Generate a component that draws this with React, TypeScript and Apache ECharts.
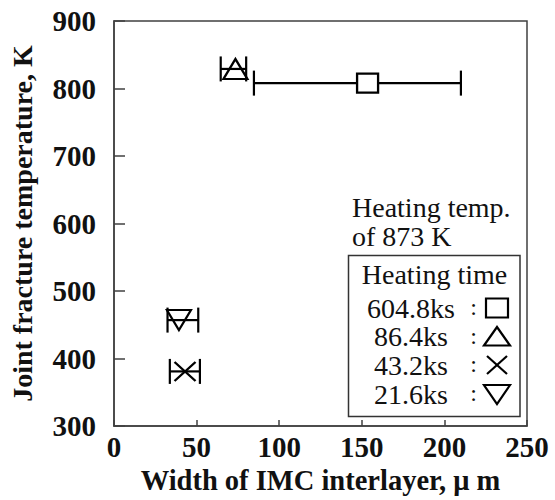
import React, { useEffect, useRef } from "react";
import * as echarts from "echarts";

const seriesNames = ["604.8ks", "86.4ks", "43.2ks", "21.6ks"];
const widths = [153.5, 73.5, 43, 39.3];
const temps = [808, 829, 381, 457];
const errLow = [84.7, 64.6, 33.8, 32.4];
const errHigh = [210, 80, 52, 51];
const xTicks = { min: 0, max: 250, interval: 50 };
const yTicks = { min: 300, max: 900, interval: 100 };

const FONT = "Liberation Serif";
const SYM_X = "path://M0,0L10,10M10,0L0,10";
const SYM_DOWN = "path://M0,0L10,0L5,10Z";
const symbols = ["rect", "triangle", SYM_X, SYM_DOWN];
const symbolSizes: any[] = [[21, 19], [24, 20], [21, 19], [24, 20]];
const fills = ["#fff", "none", "none", "none"];

export default function App() {
  const ref = useRef<HTMLDivElement>(null);
  useEffect(() => {
    if (!ref.current) return;
    const chart = echarts.init(ref.current, undefined, { renderer: "svg" });

    const errData = widths.map((w, i) => [w, temps[i], errLow[i], errHigh[i]]);

    const scatterSeries = seriesNames.map((name, i) => ({
      name,
      type: "scatter",
      symbol: symbols[i],
      symbolSize: symbolSizes[i],
      z: 5,
      itemStyle: { color: fills[i], borderColor: "#000", borderWidth: 2.2, opacity: 1 },
      data: [[widths[i], temps[i]]],
    }));

    const legendX = 411;
    const rowsY = [308, 336.5, 365, 394];
    const txt = (text: string, x: number, y: number, align: string, size = 28) => ({
      type: "text",
      x,
      y,
      style: { text, fontFamily: FONT, fontSize: size, fill: "#111", textAlign: align, textVerticalAlign: "middle" },
    });
    const legendGraphics: any[] = [
      { type: "rect", shape: { x: 348.5, y: 255.5, width: 171.5, height: 161 }, style: { fill: "none", stroke: "#333", lineWidth: 1.5 } },
      txt("Heating temp.", 352, 207, "left"),
      txt("of 873 K", 352, 236, "left"),
      txt("Heating time", 434.5, 274, "center"),
    ];
    seriesNames.forEach((n, i) => {
      legendGraphics.push(txt(n, legendX, rowsY[i], "center"));
      legendGraphics.push(txt(":", 473.5, rowsY[i] - 1, "center", 24));
    });
    const sStyle = { fill: "none", stroke: "#000", lineWidth: 2.2 };
    const cx = 497;
    legendGraphics.push({ type: "rect", shape: { x: cx - 11, y: rowsY[0] - 9.5, width: 22, height: 19 }, style: sStyle });
    legendGraphics.push({ type: "polygon", shape: { points: [[cx - 13, rowsY[1] + 9], [cx + 13, rowsY[1] + 9], [cx, rowsY[1] - 9.5]] }, style: sStyle });
    legendGraphics.push({ type: "line", shape: { x1: cx - 10, y1: rowsY[2] - 9, x2: cx + 10, y2: rowsY[2] + 9 }, style: sStyle });
    legendGraphics.push({ type: "line", shape: { x1: cx + 10, y1: rowsY[2] - 9, x2: cx - 10, y2: rowsY[2] + 9 }, style: sStyle });
    legendGraphics.push({ type: "polygon", shape: { points: [[cx - 13, rowsY[3] - 9], [cx + 13, rowsY[3] - 9], [cx, rowsY[3] + 10]] }, style: sStyle });

    chart.setOption({
      animation: false,
      backgroundColor: "#fff",
      grid: { left: 113, right: 28, top: 21, bottom: 68, show: true, borderColor: "#404040", borderWidth: 1.5, backgroundColor: "transparent" },
      xAxis: {
        type: "value",
        min: xTicks.min,
        max: xTicks.max,
        interval: xTicks.interval,
        name: "Width of IMC interlayer, \u03bc m",
        nameLocation: "middle",
        nameGap: 28,
        nameTextStyle: { fontFamily: FONT, fontWeight: "bold", fontSize: 28.5, color: "#111" },
        axisLine: { show: true, lineStyle: { color: "#404040", width: 1.5 } },
        axisTick: { show: true, inside: true, length: 6, lineStyle: { color: "#404040", width: 1.5 } },
        axisLabel: { fontFamily: FONT, fontWeight: "bold", fontSize: 29, color: "#111", margin: 6 },
        splitLine: { show: false },
      },
      yAxis: {
        type: "value",
        min: yTicks.min,
        max: yTicks.max,
        interval: yTicks.interval,
        name: "Joint fracture temperature, K",
        nameLocation: "middle",
        nameGap: 78,
        nameTextStyle: { fontFamily: FONT, fontWeight: "bold", fontSize: 28, color: "#111" },
        axisLine: { show: true, lineStyle: { color: "#404040", width: 1.5 } },
        axisTick: { show: true, inside: true, length: 11, lineStyle: { color: "#404040", width: 1.5 } },
        axisLabel: { fontFamily: FONT, fontWeight: "bold", fontSize: 29, color: "#111", margin: 18 },
        splitLine: { show: false },
      },
      graphic: legendGraphics,
      series: [
        {
          type: "custom",
          z: 3,
          data: errData,
          renderItem: (params: any, api: any) => {
            const y = api.value(1);
            const lo = api.coord([api.value(2), y]);
            const hi = api.coord([api.value(3), y]);
            const cap = 12.5;
            const st = { stroke: "#000", lineWidth: 2.2 };
            return {
              type: "group",
              children: [
                { type: "line", shape: { x1: lo[0], y1: lo[1], x2: hi[0], y2: hi[1] }, style: st },
                { type: "line", shape: { x1: lo[0], y1: lo[1] - cap, x2: lo[0], y2: lo[1] + cap }, style: st },
                { type: "line", shape: { x1: hi[0], y1: hi[1] - cap, x2: hi[0], y2: hi[1] + cap }, style: st },
              ],
            };
          },
        },
        ...scatterSeries,
      ],
    });
    return () => chart.dispose();
  }, []);
  return <div ref={ref} style={{ position: "fixed", left: 0, top: 0, width: 555, height: 500 }} />;
}
